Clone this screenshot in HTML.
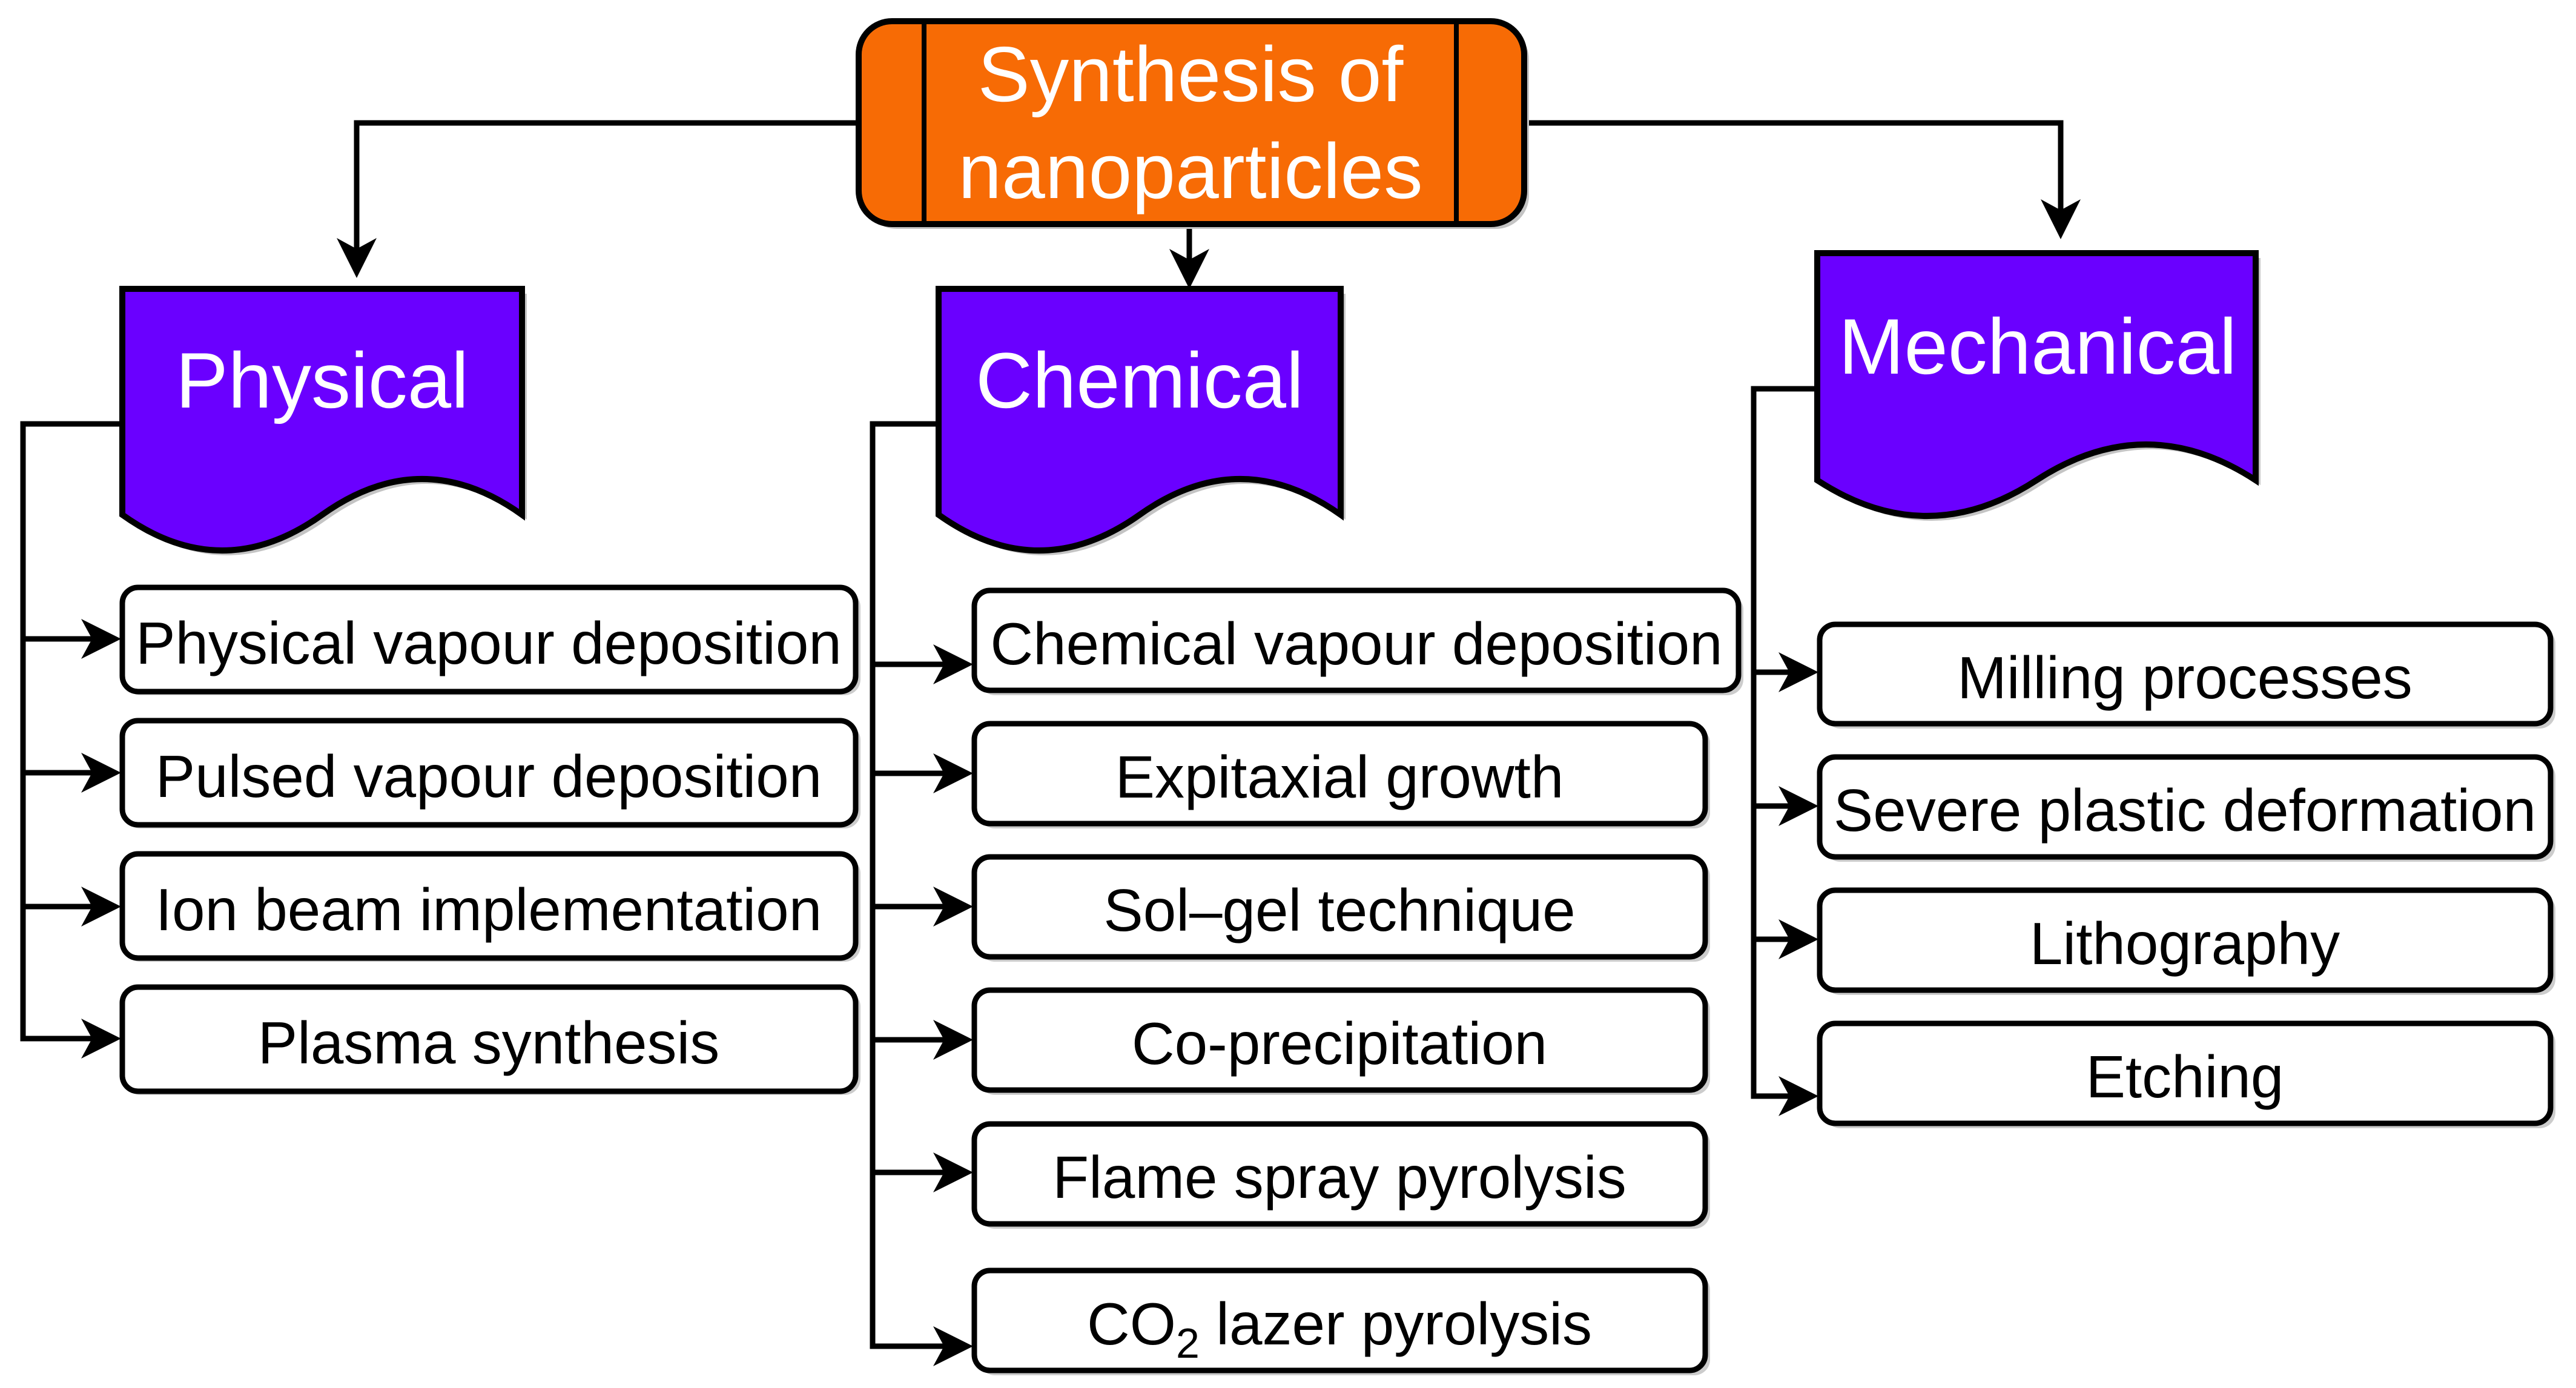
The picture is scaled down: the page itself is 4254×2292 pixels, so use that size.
<!DOCTYPE html>
<html><head><meta charset="utf-8"><style>html,body{margin:0;padding:0;background:#fff}svg{display:block}</style></head>
<body>
<svg xmlns="http://www.w3.org/2000/svg" width="4254" height="2292" viewBox="0 0 4254 2292">
<defs>
<path id="ah" d="M0,0 L-66,-33 L-48,0 L-66,33 Z" fill="#000"/>
</defs>
<g font-family="Liberation Sans, sans-serif">
<!-- connectors -->
<g stroke="#000" stroke-width="9" fill="none">
<polyline points="1418,203 589,203 589,420"/>
<polyline points="2517,203 3403,203 3403,360"/>
<line x1="1964" y1="370" x2="1964" y2="445"/>
<polyline points="202,700 38,700 38,1715 170,1715"/>
<line x1="38" y1="1055" x2="170" y2="1055"/>
<line x1="38" y1="1276" x2="170" y2="1276"/>
<line x1="38" y1="1497" x2="170" y2="1497"/>
<polyline points="1550,700 1441,700 1441,2223 1580,2223"/>
<line x1="1441" y1="1097" x2="1580" y2="1097"/>
<line x1="1441" y1="1277" x2="1580" y2="1277"/>
<line x1="1441" y1="1497" x2="1580" y2="1497"/>
<line x1="1441" y1="1717" x2="1580" y2="1717"/>
<line x1="1441" y1="1936" x2="1580" y2="1936"/>
<polyline points="3001,642 2896,642 2896,1810 2975,1810"/>
<line x1="2896" y1="1110" x2="2975" y2="1110"/>
<line x1="2896" y1="1331" x2="2975" y2="1331"/>
<line x1="2896" y1="1551" x2="2975" y2="1551"/>
</g>
<use href="#ah" transform="translate(589,459) rotate(90)"/>
<use href="#ah" transform="translate(3403,395) rotate(90)"/>
<use href="#ah" transform="translate(1964,477) rotate(90)"/>
<use href="#ah" transform="translate(200,1055)"/>
<use href="#ah" transform="translate(200,1276)"/>
<use href="#ah" transform="translate(200,1497)"/>
<use href="#ah" transform="translate(200,1715)"/>
<use href="#ah" transform="translate(1607,1097)"/>
<use href="#ah" transform="translate(1607,1277)"/>
<use href="#ah" transform="translate(1607,1497)"/>
<use href="#ah" transform="translate(1607,1717)"/>
<use href="#ah" transform="translate(1607,1936)"/>
<use href="#ah" transform="translate(1607,2223)"/>
<use href="#ah" transform="translate(3003,1110)"/>
<use href="#ah" transform="translate(3003,1331)"/>
<use href="#ah" transform="translate(3003,1551)"/>
<use href="#ah" transform="translate(3003,1810)"/>

<!-- top box -->
<rect x="1426" y="43" width="1099" height="335" rx="55" fill="#c4c4c4"/>
<rect x="1418" y="35" width="1099" height="335" rx="55" fill="#f76b05" stroke="#000" stroke-width="10"/>
<line x1="1526" y1="35" x2="1526" y2="370" stroke="#000" stroke-width="8"/>
<line x1="2405" y1="35" x2="2405" y2="370" stroke="#000" stroke-width="8"/>
<text x="1966" y="167" font-size="129" fill="#fff" text-anchor="middle">Synthesis of</text>
<text x="1966" y="327" font-size="129" fill="#fff" text-anchor="middle">nanoparticles</text>

<!-- documents -->
<g transform="translate(210,485)"><path d="M0,0 H660 V373 Q495,255 330,373 Q165,491 0,373 Z" fill="#c4c4c4"/></g>
<g transform="translate(202,477)"><path d="M0,0 H660 V373 Q495,255 330,373 Q165,491 0,373 Z" fill="#6a00ff" stroke="#000" stroke-width="10"/></g>
<text x="532" y="673" font-size="130" fill="#fff" text-anchor="middle">Physical</text>

<g transform="translate(1558,485)"><path d="M0,0 H664 V373 Q498,255 332,373 Q166,491 0,373 Z" fill="#c4c4c4"/></g>
<g transform="translate(1550,477)"><path d="M0,0 H664 V373 Q498,255 332,373 Q166,491 0,373 Z" fill="#6a00ff" stroke="#000" stroke-width="10"/></g>
<text x="1882" y="673" font-size="130" fill="#fff" text-anchor="middle">Chemical</text>

<g transform="translate(3009,426)"><path d="M0,0 H724 V375 Q543,257 362,375 Q181,493 0,375 Z" fill="#c4c4c4"/></g>
<g transform="translate(3001,418)"><path d="M0,0 H724 V375 Q543,257 362,375 Q181,493 0,375 Z" fill="#6a00ff" stroke="#000" stroke-width="10"/></g>
<text x="3365" y="617" font-size="130" fill="#fff" text-anchor="middle">Mechanical</text>

<!-- item boxes -->
<g fill="#000" font-size="98" text-anchor="middle">
<g fill="#ccc">
<rect x="206" y="976" width="1215" height="172" rx="26"/>
<rect x="206" y="1196" width="1215" height="172" rx="26"/>
<rect x="206" y="1416" width="1215" height="172" rx="26"/>
<rect x="206" y="1636" width="1215" height="172" rx="26"/>
<rect x="1617" y="981" width="1262" height="167" rx="26"/>
<rect x="1617" y="1201" width="1207" height="167" rx="26"/>
<rect x="1617" y="1421" width="1207" height="167" rx="26"/>
<rect x="1617" y="1641" width="1207" height="167" rx="26"/>
<rect x="1617" y="1862" width="1207" height="167" rx="26"/>
<rect x="1617" y="2104" width="1207" height="167" rx="26"/>
<rect x="3013" y="1037" width="1207" height="166" rx="26"/>
<rect x="3013" y="1256" width="1207" height="167" rx="26"/>
<rect x="3013" y="1476" width="1207" height="167" rx="26"/>
<rect x="3013" y="1696" width="1207" height="167" rx="26"/>
</g>
<g fill="#fff" stroke="#000" stroke-width="9">
<rect x="202" y="970" width="1211" height="172" rx="26"/>
<rect x="202" y="1190" width="1211" height="172" rx="26"/>
<rect x="202" y="1410" width="1211" height="172" rx="26"/>
<rect x="202" y="1630" width="1211" height="172" rx="26"/>
<rect x="1609" y="975" width="1262" height="165" rx="26"/>
<rect x="1609" y="1195" width="1207" height="165" rx="26"/>
<rect x="1609" y="1415" width="1207" height="165" rx="26"/>
<rect x="1609" y="1635" width="1207" height="165" rx="26"/>
<rect x="1609" y="1856" width="1207" height="165" rx="26"/>
<rect x="1609" y="2098" width="1207" height="165" rx="26"/>
<rect x="3005" y="1031" width="1207" height="164" rx="26"/>
<rect x="3005" y="1250" width="1207" height="165" rx="26"/>
<rect x="3005" y="1470" width="1207" height="165" rx="26"/>
<rect x="3005" y="1690" width="1207" height="165" rx="26"/>
</g>
<text x="807" y="1096">Physical vapour deposition</text>
<text x="807" y="1316">Pulsed vapour deposition</text>
<text x="807" y="1536">Ion beam implementation</text>
<text x="807" y="1756">Plasma synthesis</text>
<text x="2240" y="1097">Chemical vapour deposition</text>
<text x="2212" y="1317">Expitaxial growth</text>
<text x="2212" y="1537">Sol–gel technique</text>
<text x="2212" y="1757">Co-precipitation</text>
<text x="2212" y="1978">Flame spray pyrolysis</text>
<text x="2212" y="2220">CO<tspan font-size="70" dy="22">2</tspan><tspan dy="-22"> lazer pyrolysis</tspan></text>
<text x="3608" y="1153">Milling processes</text>
<text x="3608" y="1372">Severe plastic deformation</text>
<text x="3608" y="1592">Lithography</text>
<text x="3608" y="1812">Etching</text>
</g>
</g>
</svg>
</body></html>
